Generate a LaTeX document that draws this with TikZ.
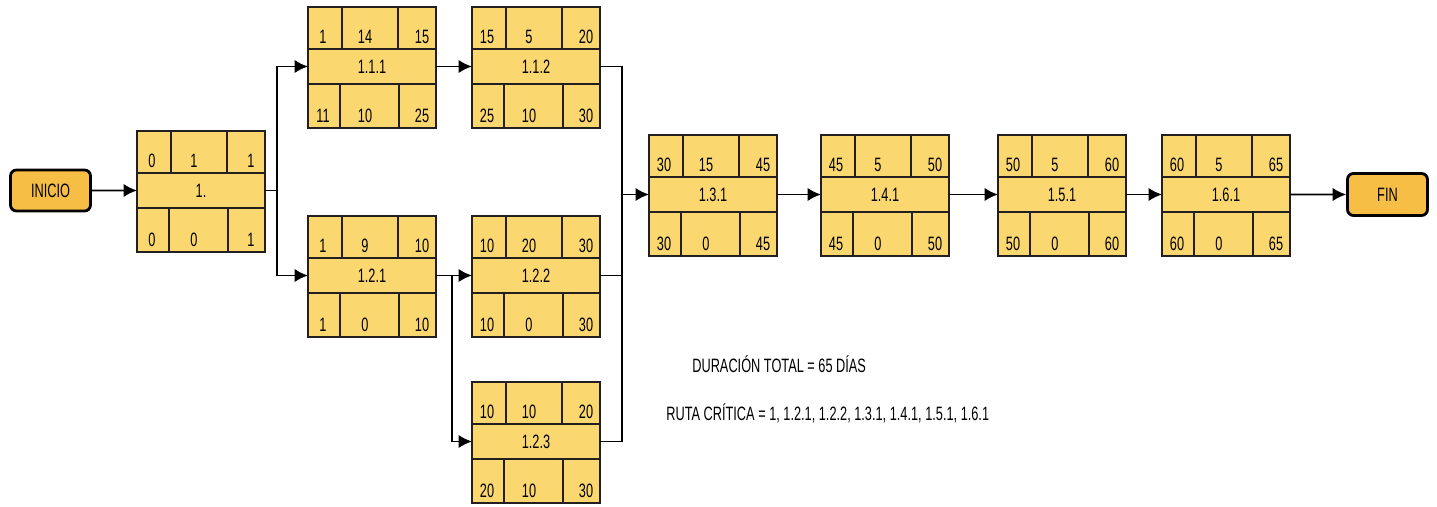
\documentclass[tikz,border=0pt]{standalone}
\usepackage{fontspec}
\newfontfamily\estrecha{Liberation Sans}[FakeStretch = 0.66]
\usetikzlibrary{arrows.meta}

\definecolor{casilla}{RGB}{251,215,112}
\definecolor{naranja}{RGB}{247,190,70}
\definecolor{borde}{RGB}{35,31,32}

\tikzset{
	celda/.style = {draw = borde, fill = casilla, line width = 1pt},
	fila/.style = {celda, anchor = north west, minimum width = 2.56cm, minimum height = 0.70cm, inner sep = 0pt, outer sep = 0pt},
	dato/.style = {anchor = base, inner sep = 0pt},
	extremo/.style = {draw = black, fill = naranja, line width = 1.6pt, rounded corners = 1.2mm, minimum width = 1.60cm, minimum height = 0.82cm, inner sep = 0pt},
	nota/.style = {anchor = base west, inner sep = 0pt, font = \estrecha\fontsize{11}{13}\selectfont},
	linea/.style = {draw = black, line width = 1.1pt},
	flecha/.style = {linea, -{Latex[length = 2.7mm, width = 2.7mm]}}
}

% casilla de actividad: nombre, esquina, etiqueta, IC, D, TC, IL, H, TL
\newcommand{\actividad}[9]{%
	\begin{scope}[shift = {#2}]
		% fila superior
		\draw[celda] (0,0) rectangle (0.68,-0.84);
		\draw[celda] (0.68,0) rectangle (1.80,-0.84);
		\draw[celda] (1.80,0) rectangle (2.56,-0.84);
		% fila inferior
		\draw[celda] (0,-1.54) rectangle (0.64,-2.42);
		\draw[celda] (0.64,-1.54) rectangle (1.82,-2.42);
		\draw[celda] (1.82,-1.54) rectangle (2.56,-2.42);
		% fila central
		\node[fila] (#1) at (0,-0.84) {#3};
		% datos
		\node[dato] (#1-a) at (0.30,-0.72) {#4};
		\node[dato] (#1-b) at (1.14,-0.72) {#5};
		\node[dato] (#1-c) at (2.28,-0.72) {#6};
		\node[dato] (#1-d) at (0.30,-2.30) {#7};
		\node[dato] (#1-e) at (1.14,-2.30) {#8};
		\node[dato] (#1-f) at (2.28,-2.30) {#9};
	\end{scope}}

\begin{document}
\begin{tikzpicture}
		\tikzstyle{every node} = [font = \estrecha\fontsize{11}{13}\selectfont]
		\useasboundingbox (0,0) rectangle (28.74,10.12);

% Inicio y fin
\node[extremo] (inicio) at (1.01,6.31) {INICIO};
\node[extremo, minimum height = 0.84cm] (fin) at (27.75,6.23) {FIN};

% Actividades
\actividad{n1}{(2.74,7.50)}{1.}{0}{1}{1}{0}{0}{1}
\actividad{n111}{(6.16,9.98)}{1.1.1}{1}{14}{15}{11}{10}{25}
\actividad{n112}{(9.44,9.98)}{1.1.2}{15}{5}{20}{25}{10}{30}
\actividad{n121}{(6.16,5.80)}{1.2.1}{1}{9}{10}{1}{0}{10}
\actividad{n122}{(9.44,5.80)}{1.2.2}{10}{20}{30}{10}{0}{30}
\actividad{n123}{(9.44,2.48)}{1.2.3}{10}{10}{20}{20}{10}{30}
\actividad{n131}{(12.98,7.42)}{1.3.1}{30}{15}{45}{30}{0}{45}
\actividad{n141}{(16.42,7.42)}{1.4.1}{45}{5}{50}{45}{0}{50}
\actividad{n151}{(19.96,7.42)}{1.5.1}{50}{5}{60}{50}{0}{60}
\actividad{n161}{(23.24,7.42)}{1.6.1}{60}{5}{65}{60}{0}{65}

% Puntos de union
\coordinate (c1) at ([xshift = 0.24cm]n1.east);
\coordinate (c2) at ([xshift = 0.44cm]n112.east);
\coordinate (c3) at ([xshift = 0.32cm]n121.east);

% Conexiones
\draw[flecha] (inicio) -- (n1);
\draw[linea] (n1.east) -- (c1);
\draw[flecha] (c1) |- (n111.west);
\draw[flecha] (c1) |- (n121.west);
\draw[flecha] (n111) -- (n112);
\draw[flecha] (n121) -- (n122);
\draw[flecha] (c3) |- (n123.west);
\draw[linea] (n112.east) -- (c2) |- (n123.east);
\draw[linea] (n122.east) -- (c2 |- n122.east);
\draw[flecha] (c2 |- n131.west) -- (n131.west);
\draw[flecha] (n131) -- (n141);
\draw[flecha] (n141) -- (n151);
\draw[flecha] (n151) -- (n161);
\draw[flecha] (n161) -- (fin);

% Notas
\node[nota] (duracion) at (13.84,2.68) {DURACIÓN TOTAL = 65 DÍAS};
\node[nota] (ruta) at (13.32,1.72) {RUTA CRÍTICA = 1, 1.2.1, 1.2.2, 1.3.1, 1.4.1, 1.5.1, 1.6.1};

	\end{tikzpicture}
\end{document}
